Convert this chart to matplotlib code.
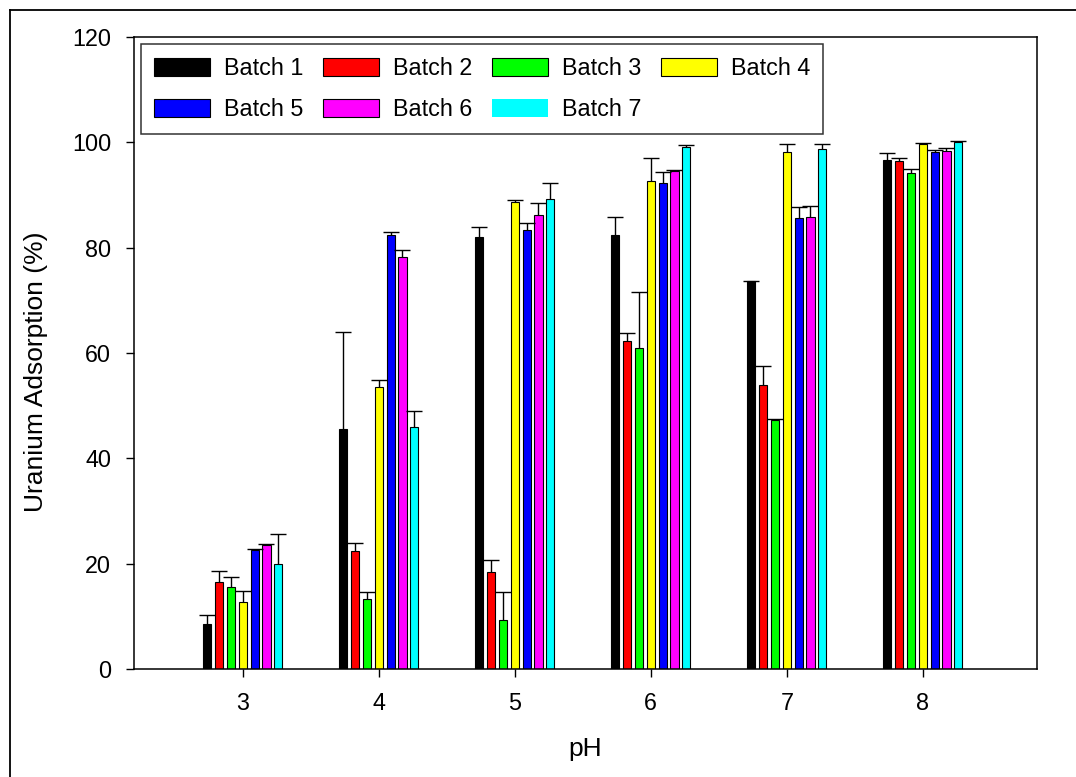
import numpy as np
import matplotlib
matplotlib.use("Agg")
from matplotlib import pyplot as plt
from matplotlib.patches import Patch
from matplotlib.lines import Line2D

plt.rcParams['font.family'] = ['Liberation Sans', 'DejaVu Sans']

ph = [3, 4, 5, 6, 7, 8]
batches = ['Batch 1', 'Batch 2', 'Batch 3', 'Batch 4', 'Batch 5', 'Batch 6', 'Batch 7']
colors = ['#000000', '#FF0000', '#00FF00', '#FFFF00', '#0000FF', '#FF00FF', '#00FFFF']

# adsorption (%) per batch, one value per pH
b1 = [8.5, 45.5, 82.1, 82.4, 73.6, 96.6]
b2 = [16.6, 22.4, 18.5, 62.3, 54.0, 96.4]
b3 = [15.6, 13.3, 9.3, 61.0, 47.2, 94.2]
b4 = [12.8, 53.6, 88.7, 92.7, 98.1, 99.6]
b5 = [22.6, 82.4, 83.3, 92.2, 85.6, 98.2]
b6 = [23.5, 78.2, 86.2, 94.5, 85.8, 98.3]
b7 = [19.9, 45.9, 89.2, 99.1, 98.7, 100.0]

# upper error (only the + side is drawn)
e1 = [1.7, 18.5, 1.9, 3.4, 0.0, 1.4]
e2 = [2.1, 1.6, 2.2, 1.5, 3.6, 0.7]
e3 = [1.9, 1.4, 5.4, 10.6, 0.3, 0.7]
e4 = [2.1, 1.3, 0.3, 4.4, 1.5, 0.2]
e5 = [0.1, 0.6, 1.4, 2.2, 2.2, 0.3]
e6 = [0.2, 1.3, 2.3, 0.2, 2.1, 0.7]
e7 = [5.7, 3.0, 3.0, 0.4, 1.0, 0.2]

values = [b1, b2, b3, b4, b5, b6, b7]
errors = [e1, e2, e3, e4, e5, e6, e7]

fig = plt.figure(figsize=(10.76, 7.77), dpi=100)
ax = fig.add_axes([134 / 1076, 108 / 777, 903 / 1076, 632 / 777])

# outer frame of the picture
fx = 10 / 1076
fy = 1 - 10 / 777
fig.add_artist(Line2D([fx, fx], [-0.1, fy], transform=fig.transFigure, color='black', lw=1.3))
fig.add_artist(Line2D([fx, 1.1], [fy, fy], transform=fig.transFigure, color='black', lw=1.3))

x = np.array(ph, dtype=float)
step = 0.087
width = 0.06
for i, (vals, errs, c) in enumerate(zip(values, errors, colors)):
    xs = x + (i - 3) * step
    vals = np.array(vals)
    errs = np.array(errs)
    ax.bar(xs, vals, width=width, color=c, edgecolor='black', linewidth=0.8, zorder=2)
    ax.vlines(xs, vals, vals + errs, color='black', linewidth=1.0, zorder=3)
    ax.plot(xs, vals + errs, ls='none', marker='_', ms=11.5, mew=1.0, color='black', zorder=3)

ax.set_xlim(2.2, 8.84)
ax.set_ylim(0, 120)
ax.set_xticks(ph)
ax.set_yticks(range(0, 121, 20))
ax.tick_params(axis='both', direction='out', length=5.8, width=1.0, labelsize=16.8, pad=10.5)
ax.tick_params(top=False, right=False)
for sp in ax.spines.values():
    sp.set_linewidth(1.1)

ax.set_xlabel('pH', fontsize=19, labelpad=16)
ax.set_ylabel('Uranium Adsorption (%)', fontsize=19)
ax.yaxis.set_label_coords(-0.0957, 0.47)

handles = []
for name, c in zip(batches, colors):
    ec = 'none' if name == 'Batch 7' else 'black'
    handles.append(Patch(facecolor=c, edgecolor=ec, linewidth=0.8, label=name))
# reorder so the rows read 1-4 then 5-7
order = [0, 4, 1, 5, 2, 6, 3]
leg = ax.legend([handles[k] for k in order], [batches[k] for k in order],
                ncol=4, loc='upper left', bbox_to_anchor=(7 / 903, 1 - 7 / 632),
                borderaxespad=0, fontsize=16.8, frameon=True, fancybox=False,
                edgecolor='black', handlelength=2.4, handleheight=0.8,
                handletextpad=0.6, columnspacing=0.85, borderpad=0.55,
                labelspacing=0.8)
leg.get_frame().set_linewidth(1.1)

fig.savefig('out.png', dpi=100)
